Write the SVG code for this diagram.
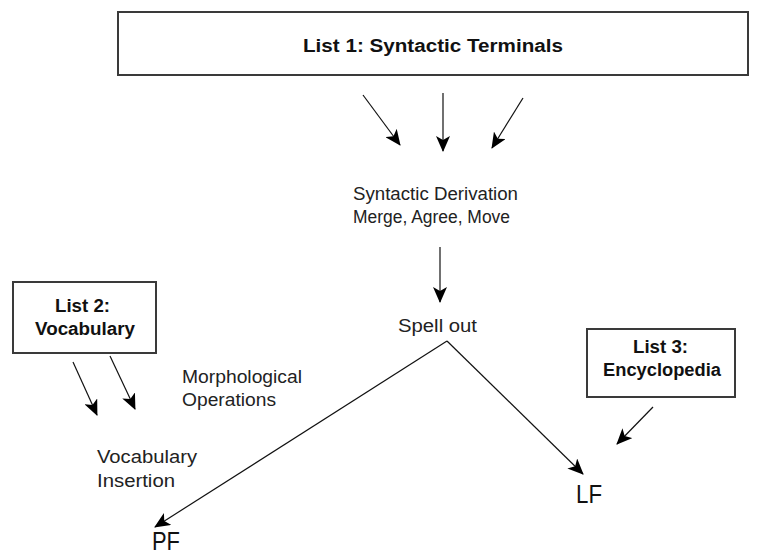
<svg xmlns="http://www.w3.org/2000/svg" width="783" height="556" viewBox="0 0 783 556">
<style>
.box{fill:#fff;stroke:#3a3a3a;stroke-width:2}
.b{font-family:"Liberation Sans",Arial,sans-serif;font-weight:bold;font-size:18px;fill:#111}
.t{font-family:"Liberation Sans",Arial,sans-serif;font-size:17.5px;fill:#222}
.big{font-family:"Liberation Sans",Arial,sans-serif;font-size:26px;fill:#111}
.c{stroke:#111;stroke-width:1.2;fill:none;marker-end:url(#ah)}
</style>
<defs>
<marker id="ah" viewBox="0 0 16 14" refX="15" refY="7" markerWidth="16" markerHeight="14" markerUnits="userSpaceOnUse" orient="auto">
<path d="M0,0 L16,7 L0,14 L4,7 z" fill="#000"/>
</marker>
</defs>
<rect width="783" height="556" fill="#fff"/>
<g id="list1">
<rect class="box" x="118" y="12" width="630" height="63"/>
<text class="b" x="303" y="52" textLength="260" lengthAdjust="spacingAndGlyphs">List 1: Syntactic Terminals</text>
</g>
<g id="derivation">
<text class="t" x="353" y="200" textLength="165" lengthAdjust="spacingAndGlyphs">Syntactic Derivation</text>
<text class="t" x="353" y="223" textLength="157" lengthAdjust="spacingAndGlyphs">Merge, Agree, Move</text>
</g>
<g id="spellout">
<text class="t" x="398" y="332" textLength="79" lengthAdjust="spacingAndGlyphs">Spell out</text>
</g>
<g id="list2">
<rect class="box" x="13" y="282" width="143" height="71"/>
<text class="b" x="55" y="312" textLength="55" lengthAdjust="spacingAndGlyphs">List 2:</text>
<text class="b" x="35" y="335" textLength="100" lengthAdjust="spacingAndGlyphs">Vocabulary</text>
</g>
<g id="morph">
<text class="t" x="182" y="383" textLength="120" lengthAdjust="spacingAndGlyphs">Morphological</text>
<text class="t" x="182" y="406" textLength="94" lengthAdjust="spacingAndGlyphs">Operations</text>
</g>
<g id="vocins">
<text class="t" x="97" y="463" textLength="100" lengthAdjust="spacingAndGlyphs">Vocabulary</text>
<text class="t" x="97" y="487" textLength="78" lengthAdjust="spacingAndGlyphs">Insertion</text>
</g>
<g id="pf">
<text class="big" x="152" y="550" textLength="28" lengthAdjust="spacingAndGlyphs">PF</text>
</g>
<g id="list3">
<rect class="box" x="587" y="329" width="148" height="68"/>
<text class="b" x="633" y="353" textLength="55" lengthAdjust="spacingAndGlyphs">List 3:</text>
<text class="b" x="603" y="376" textLength="118" lengthAdjust="spacingAndGlyphs">Encyclopedia</text>
</g>
<g id="lf">
<text class="big" x="576" y="503" textLength="26" lengthAdjust="spacingAndGlyphs">LF</text>
</g>
<g id="connectors">
<line class="c" x1="363" y1="95" x2="400" y2="145"/>
<line class="c" x1="443" y1="93" x2="443" y2="151"/>
<line class="c" x1="523" y1="98" x2="492" y2="148"/>
<line class="c" x1="440" y1="247" x2="440" y2="302"/>
<line class="c" x1="73" y1="362" x2="97" y2="415"/>
<line class="c" x1="110" y1="356" x2="135" y2="409"/>
<line class="c" x1="447" y1="341" x2="155" y2="527"/>
<line class="c" x1="447" y1="341" x2="583" y2="474"/>
<line class="c" x1="653" y1="407" x2="617" y2="444"/>
</g>
</svg>
